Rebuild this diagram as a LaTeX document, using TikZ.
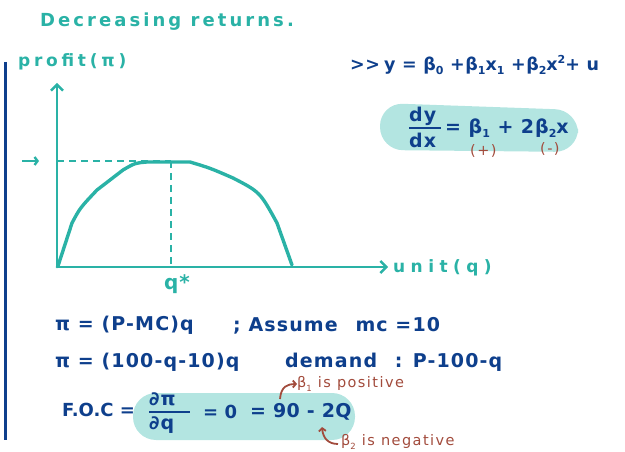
\documentclass[tikz,border=0pt]{standalone}
\usepackage{fontspec}
\setmainfont{DejaVu Sans}
\usetikzlibrary{arrows.meta}
\definecolor{teal1}{HTML}{2AB2A6}
\definecolor{navy1}{HTML}{0E3F8C}
\definecolor{pill}{HTML}{B3E5E1}
\definecolor{brown1}{HTML}{A24B3C}
\newcommand{\lowi}[1]{\raisebox{-0.45ex}{\fontsize{11}{12}\selectfont #1}}
\newcommand{\lowb}[1]{\raisebox{-0.45ex}{\fontsize{8.5}{9}\selectfont #1}}
\newcommand{\hii}[1]{\raisebox{0.8ex}{\fontsize{11}{12}\selectfont #1}}
\tikzset{
  ax/.style={teal1, line width=2.8pt, line cap=round, -{Straight Barb[length=6pt,width=12pt,line width=2.4pt]}},
  dsh/.style={teal1, line width=2.8pt, dash pattern=on 7pt off 5pt},
  tl/.style={text=teal1, inner sep=0pt, anchor=west, font=\addfontfeatures{LetterSpace=22}\bfseries\fontsize{17}{18}\selectfont},
  bl/.style={text=navy1, inner sep=0pt, anchor=west, font=\addfontfeatures{LetterSpace=6}\bfseries\fontsize{19}{20}\selectfont},
  br/.style={text=brown1, inner sep=0pt, anchor=west, font=\addfontfeatures{LetterSpace=10}\fontsize{14.5}{15}\selectfont},
  brar/.style={brown1, line width=1.8pt, -{Straight Barb[length=3pt,width=7pt]}},
}
\begin{document}
\begin{tikzpicture}[x=1pt,y=-1pt]
\useasboundingbox (0,0) rectangle (625,452);
% left bar
\draw[navy1, line width=3pt] (5,62) -- (5,440);
% title
\node[tl, font=\addfontfeatures{LetterSpace=17}\bfseries\fontsize{18}{19}\selectfont] (title) at (40,22) {Decreasing returns.};
\node[tl] (prof) at (18,62) {profit(π)};
% axes
\coordinate (O) at (57,267);
\coordinate (ytop) at (57,83);
\coordinate (xend) at (388,267);
\draw[ax] (O) -- (ytop);
\draw[ax] (O) -- (xend);
\node[tl, font=\addfontfeatures{LetterSpace=32}\bfseries\fontsize{17}{18}\selectfont] (unit) at (393,268) {unit(q)};
% dashed guides
\coordinate (peak) at (171,161);
\coordinate (ypk) at (57,161);
\coordinate (xpk) at (171,267);
\draw[dsh] (ypk) -- (peak);
\draw[dsh] (peak) -- (xpk);
\coordinate (ma) at (22,161);
\coordinate (mb) at (39,161);
\draw[teal1, line width=2.4pt, -{Straight Barb[length=3pt,width=8pt]}] (ma) -- (mb);
\node[tl, font=\addfontfeatures{LetterSpace=4}\bfseries\fontsize{20}{20}\selectfont] (qs) at (164,284) {q*};
% curve
\draw[teal1, line width=3.4pt, line cap=round, line join=round]
  (58,266) -- (72,223) .. controls (80,208) .. (97,190) -- (123,170)
  .. controls (135,163) .. (147,162) -- (190,162) .. controls (210,168) .. (233,178)
  .. controls (260,192) .. (277,223) -- (292,265);
% top formula
\node[bl, font=\addfontfeatures{LetterSpace=3}\bfseries\fontsize{17.5}{18}\selectfont] (f1) at (350,65) {{>}{>}\hspace{4pt}y = β\lowi{0} +β\lowi{1}x\lowi{1} +β\lowi{2}x\hii{2}+ u};
% pill 1
\fill[pill, rounded corners=23pt] (380,103) -- (578,110) -- (578,152) -- (380,150) -- cycle;
\node[bl] (dyn) at (409,116) {dy};
\node[bl] (dyd) at (409,140) {dx};
\coordinate (fl1a) at (409,128);
\coordinate (fl1b) at (441,128);
\draw[navy1, line width=2pt] (fl1a) -- (fl1b);
\node[bl, font=\addfontfeatures{LetterSpace=5}\bfseries\fontsize{19}{20}\selectfont] (f2) at (445,128) {= β\lowi{1} + 2β\lowi{2}x};
\node[br] (pl) at (470,151) {(+)};
\node[br] (mi) at (540,149) {(-)};
% lines
\node[bl] (l1a) at (55,325) {π = (P-MC)q};
\node[bl] (l1b) at (233,326) {; Assume\hspace{10pt} mc =10};
\node[bl] (l2a) at (55,362) {π = (100-q-10)q};
\node[bl] (l2b) at (285,362) {demand\hspace{10pt} : P-100-q};
% FOC
\node[bl, font=\addfontfeatures{LetterSpace=0}\bfseries\fontsize{18}{20}\selectfont] (foc) at (62,410) {F.O.C =};
\fill[pill, rounded corners=23pt] (133,393) rectangle (355,440);
\node[bl] (pn) at (149,399) {∂π};
\node[bl] (pd) at (149,425) {∂q};
\coordinate (fl2a) at (149,412);
\coordinate (fl2b) at (190,412);
\draw[navy1, line width=2pt] (fl2a) -- (fl2b);
\node[bl, font=\addfontfeatures{LetterSpace=0}\bfseries\fontsize{18}{20}\selectfont] (f3) at (203,412) {= 0};
\node[bl, font=\addfontfeatures{LetterSpace=2}\bfseries\fontsize{19}{20}\selectfont] (f4) at (250,412) {= 90 - 2Q};
% annotations
\node[br] (a1) at (297,384) {β\lowb{1} is positive};
\node[br] (a2) at (341,442) {β\lowb{2} is negative};
\coordinate (s1) at (280,399);
\coordinate (s2) at (338,444);
\coordinate (t2) at (322,427);
\draw[brar] (s1) .. controls (281,386) and (288,384) .. (a1.west);
\draw[brar] (s2) .. controls (328,444) and (323,438) .. (t2);
\end{tikzpicture}
\end{document}
